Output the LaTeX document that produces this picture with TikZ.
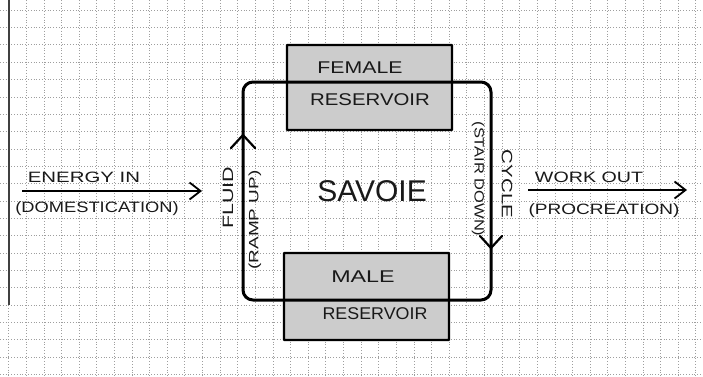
\documentclass[tikz,border=0pt]{standalone}
\usepackage{fontspec}
\setmainfont{Liberation Sans}
\usetikzlibrary{arrows.meta}
\newcommand{\hw}[2]{\scalebox{#1}[1]{#2}}
\begin{document}
\begin{tikzpicture}[x=1pt,y=-1pt,
  gridline/.style={black!38, line width=0.45pt, dash pattern=on 0.6pt off 2.2pt},
  resbox/.style={draw=black, fill=black!20, line width=2.4pt, inner sep=0pt, rounded corners=0.5pt},
  loopbox/.style={draw=black, line width=3pt, rounded corners=10pt, inner sep=0pt},
  chev/.style={draw=black, line width=2.2pt, line cap=round, line join=round},
  flow/.style={draw=black, line width=1.8pt, -{Straight Barb[length=11pt,width=17pt,line width=1.8pt]}},
  lbl/.style={inner sep=0pt, text=black!90, font=\fontsize{15}{15}\selectfont},
  lblsm/.style={inner sep=0pt, text=black!90, font=\fontsize{13.5}{13.5}\selectfont},
  mid/.style={inner sep=0pt, text=black!90, font=\fontsize{17}{17}\selectfont},
  big/.style={inner sep=0pt, text=black!90, font=\fontsize{30}{30}\selectfont}]
\useasboundingbox (0,0) rectangle (703,376);
\fill[white] (0,0) rectangle (703,376);
% graph paper
\foreach \i in {0,...,39} \draw[gridline] (8.5+17.62*\i,0) -- (8.5+17.62*\i,376);
\foreach \j in {0,...,21} \draw[gridline] (0,10+17.35*\j) -- (703,10+17.35*\j);
% paper edge
\draw[line width=1.2pt, black!75] (9,0) -- (9,305);
% reservoirs
\node[resbox, minimum width=165pt, minimum height=85pt] (fem) at (369.5,87.5) {};
\node[resbox, minimum width=165pt, minimum height=87pt] (male) at (366.5,296.5) {};
% loop
\node[loopbox, minimum width=248pt, minimum height=218pt] (loop) at (367,191) {};
\coordinate (up) at (243,135);
\draw[chev] (up) ++(-12,13) -- (up) -- ++(12,13);
\coordinate (down) at (491,248);
\draw[chev] (down) ++(-11,-12) -- (down) -- ++(11,-12);
% in / out arrows
\coordinate (ein) at (22,191);
\coordinate (eout) at (202,191);
\draw[flow] (ein) -- (eout);
\coordinate (win) at (528,190);
\coordinate (wout) at (687,190);
\draw[flow] (win) -- (wout);
% labels
\node[lbl] (energy) at (84,177) {\hw{1.36}{ENERGY IN}};
\node[lbl] (dom) at (97,209) {\hw{1.22}{(DOMESTICATION)}};
\node[lbl] (work) at (589,177) {\hw{1.31}{WORK OUT}};
\node[lbl] (proc) at (604,211) {\hw{1.27}{(PROCREATION)}};
\node[lbl, rotate=90] (fluid) at (228,198) {\hw{1.43}{FLUID}};
\node[lblsm, rotate=90] (ramp) at (255,220) {\hw{1.4}{(RAMP UP)}};
\node[lbl, rotate=-90] (cycle) at (507,184) {\hw{1.36}{CYCLE}};
\node[lblsm, rotate=-90] (stair) at (478,179) {\hw{1.22}{(STAIR DOWN)}};
\node[big] (savoie) at (372,191) {SAVOIE};
\node[mid] (femt) at (360,68) {\hw{1.25}{FEMALE}};
\node[mid] (femr) at (370,100) {\hw{1.2}{RESERVOIR}};
\node[mid] (malet) at (363,277) {\hw{1.37}{MALE}};
\node[mid] (maler) at (375,314) {\hw{1.05}{RESERVOIR}};
\end{tikzpicture}
\end{document}
